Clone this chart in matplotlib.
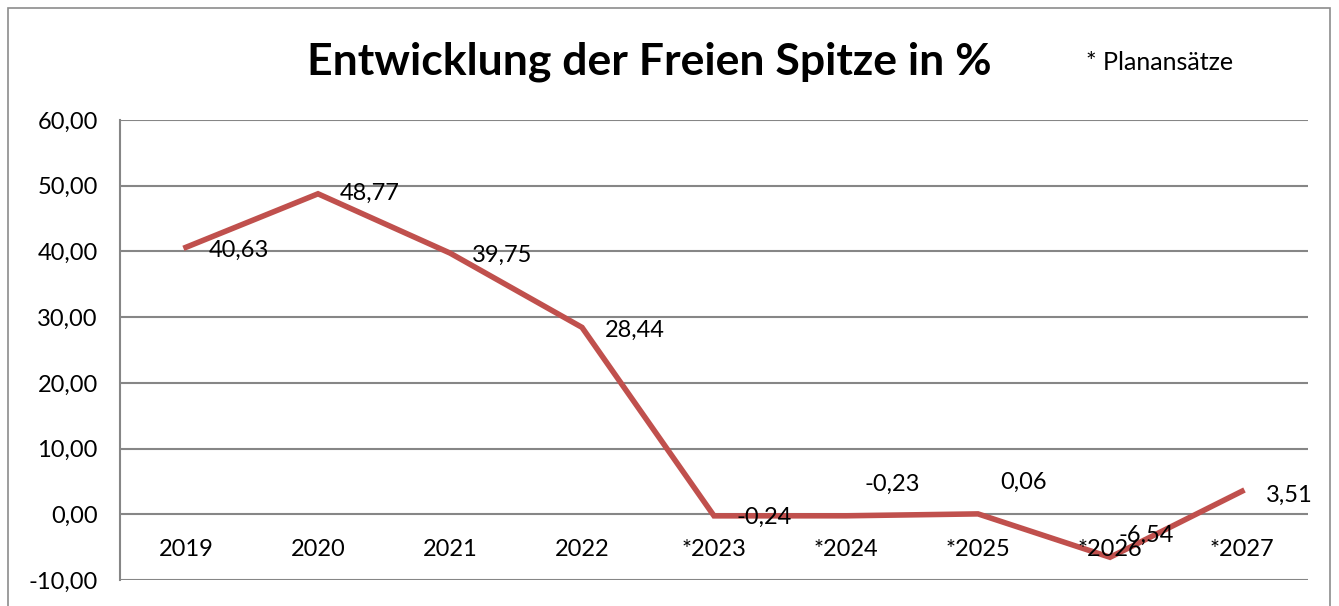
import matplotlib
matplotlib.use("Agg")
import matplotlib.pyplot as plt
from matplotlib.patches import Rectangle

categories = ["2019", "2020", "2021", "2022", "*2023", "*2024", "*2025", "*2026", "*2027"]
values = [40.63, 48.77, 39.75, 28.44, -0.24, -0.23, 0.06, -6.54, 3.51]
label_texts = ["40,63", "48,77", "39,75", "28,44", "-0,24", "-0,23", "0,06", "-6,54", "3,51"]
y_ticks = [-10, 0, 10, 20, 30, 40, 50, 60]
y_tick_labels = ["-10,00", "0,00", "10,00", "20,00", "30,00", "40,00", "50,00", "60,00"]
# label offsets in pixels (dx, dy)
label_offsets = [(23, -3), (22, 0), (22, -2), (23, -3), (23, -1), (19, 31), (22, 32), (8, 22), (24, -4)]

plt.rcParams['font.family'] = ['Lato', 'DejaVu Sans']

W, H = 1339, 606
fig = plt.figure(figsize=(W / 100, H / 100), dpi=100)
fig.patch.set_facecolor("white")

# outer chart border
fig.add_artist(Rectangle((8 / W, -0.1), (1330 - 8) / W, 1 - 8 / H + 0.1,
                         transform=fig.transFigure, fill=False,
                         edgecolor="#8c8c8c", linewidth=1.2))

ax = fig.add_axes([120 / W, 1 - 580 / H, (1308 - 120) / W, (580 - 120) / H])
x = list(range(len(categories)))
ax.plot(x, values, color="#C0504D", linewidth=4, solid_joinstyle="miter", zorder=3)

ax.set_xlim(-0.5, len(categories) - 0.5)
ax.set_ylim(-10, 60)
ax.set_yticks(y_ticks)
ax.set_yticklabels(y_tick_labels, fontsize=17)
ax.yaxis.grid(True, color="#868686", linewidth=1.5)
ax.set_axisbelow(True)
ax.tick_params(axis="y", length=0, pad=16)

for s in ["top", "right", "bottom"]:
    ax.spines[s].set_visible(False)
ax.spines["left"].set_color("#868686")
ax.spines["left"].set_linewidth(1.5)

ax.set_xticks([])
for xi, cat in zip(x, categories):
    ax.annotate(cat, (xi, 0), xytext=(0, -35), textcoords="offset pixels",
                ha="center", va="center", fontsize=17)

for xi, v, t, (dx, dy) in zip(x, values, label_texts, label_offsets):
    ax.annotate(t, (xi, v), xytext=(dx, dy), textcoords="offset pixels",
                ha="left", va="center", fontsize=17, zorder=4)

fig.text(649 / W, 1 - 62 / H, "Entwicklung der Freien Spitze in %",
         ha="center", va="center", fontsize=32, fontweight="bold")
fig.text(1160 / W, 1 - 62 / H, "* Planansätze", ha="center", va="center", fontsize=18)

fig.savefig("out.png", dpi=100)
